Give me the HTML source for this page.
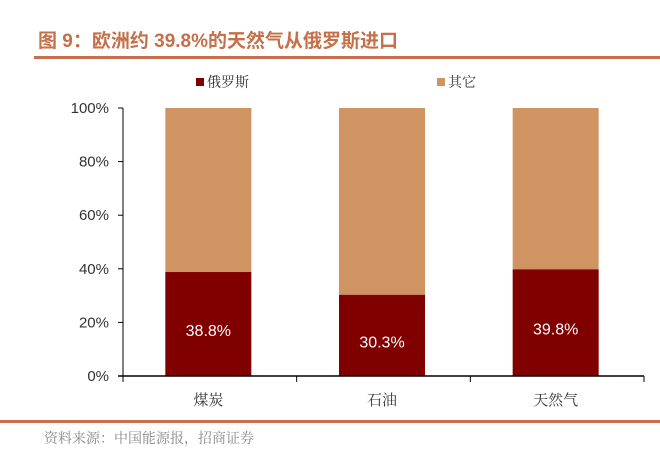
<!DOCTYPE html>
<html><head><meta charset="utf-8"><style>
body{margin:0;background:#fff;width:660px;height:460px;overflow:hidden}
svg{display:block}
</style></head><body>
<svg width="660" height="460">
<text x="38" y="47" font-family="Liberation Sans, Noto Sans CJK SC, sans-serif" font-weight="bold" font-size="19" fill="#c5704a">图 9：欧洲约 39.8%的天然气从俄罗斯进口</text>
<rect x="34" y="56" width="626" height="3" fill="#c8704e"/>
<g>
<rect x="196" y="78" width="8" height="8" fill="#800000"/>
<text x="207" y="87" font-family="Noto Serif CJK SC, serif" font-size="14" fill="#333">俄罗斯</text>
<rect x="437" y="78" width="8" height="8" fill="#cf9462"/>
<text x="448" y="87" font-family="Noto Serif CJK SC, serif" font-size="14" fill="#333">其它</text>
</g>
<g id="plot"></g>
<rect x="0" y="420" width="660" height="3" fill="#c8704e"/>
<text x="44" y="443" font-family="Noto Serif CJK SC, serif" font-size="14" fill="#888">资料来源：中国能源报，招商证券</text>
</svg>
<script>
const categories=["煤炭","石油","天然气"];
const russia=[38.8,30.3,39.8];
const ticks=[0,20,40,60,80,100];
const NS="http://www.w3.org/2000/svg";
const g=document.getElementById('plot');
const x0=123,x1=644,y0=376,y1=108;
const band=(x1-x0)/categories.length;
const y=v=>y0-(v/100)*(y0-y1);
function mk(t,a){const e=document.createElementNS(NS,t);for(const k in a)e.setAttribute(k,a[k]);g.appendChild(e);return e;}
ticks.forEach(t=>{
 const l=mk('line',{x1:x0-5,x2:x0,y1:y(t),y2:y(t),stroke:'#000'});
 
 
 const tx=mk('text',{x:x0-14,y:y(t)+5,'text-anchor':'end','font-family':'Liberation Sans, sans-serif','font-size':'15',fill:'#333'});
 tx.textContent=t+'%';
 
 
});
categories.forEach((c,i)=>{
 const cx=x0+band*(i+0.5)-1.5,w=86,v=russia[i];
 const o=mk('rect',{x:cx-w/2,y:y(100),width:w,height:y(v)-y(100),fill:'#cf9462'});
 
 
 const r=mk('rect',{x:cx-w/2,y:y(v),width:w,height:y0-y(v),fill:'#800000'});
 
 
 const lb=mk('text',{x:cx,y:y(v/2)+12,'text-anchor':'middle','font-family':'Liberation Sans, sans-serif','font-size':'16',fill:'#fff'});
 lb.textContent=v.toFixed(1)+'%';
 
 
 const cl=mk('text',{x:cx,y:y0+29,'text-anchor':'middle','font-family':'Noto Serif CJK SC, serif','font-size':'15',fill:'#333'});
 cl.textContent=c;
 
 
});
for(let i=0;i<=categories.length;i++){
 const t=mk('line',{x1:x0+band*i,x2:x0+band*i,y1:y0,y2:y0+6,stroke:'#000'});
 
 
}
const ya=mk('line',{x1:x0,x2:x0,y1:y1,y2:y0,stroke:'#000'});


const xa=mk('line',{x1:x0-5,x2:x1,y1:y0,y2:y0,stroke:'#000','stroke-width':'1.5'});


</script>
</body></html>
